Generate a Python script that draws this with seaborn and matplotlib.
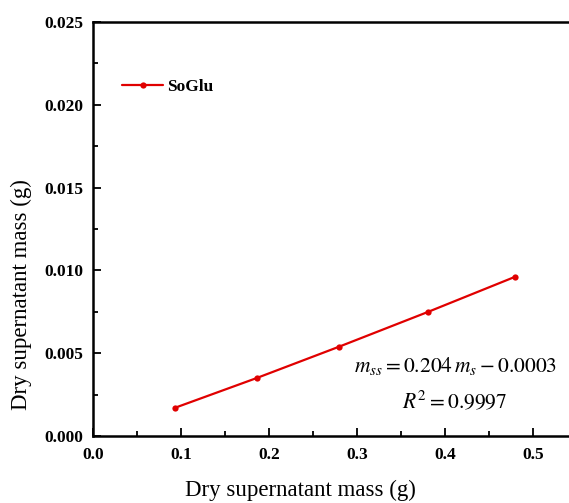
import matplotlib
matplotlib.use("Agg")
import matplotlib.pyplot as plt
import seaborn as sns
import pandas as pd
from matplotlib.ticker import MultipleLocator

x_vals = [0.093, 0.186, 0.280, 0.381, 0.479]
y_vals = [0.0017, 0.0035, 0.0054, 0.0075, 0.0096]
series_name = "SoGlu"
xtick_labels = ["0.0", "0.1", "0.2", "0.3", "0.4", "0.5"]
ytick_labels = ["0.000", "0.005", "0.010", "0.015", "0.020", "0.025"]

sns.set_style("ticks")
plt.rcParams['font.family'] = ['Liberation Serif', 'DejaVu Serif']
plt.rcParams['mathtext.fontset'] = 'stix'
plt.rcParams['text.color'] = 'black'
plt.rcParams['axes.labelcolor'] = 'black'
plt.rcParams['xtick.color'] = 'black'
plt.rcParams['ytick.color'] = 'black'

df = pd.DataFrame({"x": x_vals, "y": y_vals, "series": series_name})

fig = plt.figure(figsize=(5.69, 5.03), dpi=100)
ax = fig.add_axes([93/569, 67/503, 528/569, 414/503])

sns.lineplot(data=df, x="x", y="y", hue="series", palette=["#e00000"],
             marker="o", markersize=4.5, markeredgewidth=0, linewidth=1.6, ax=ax)

ax.set_xlim(0, 0.6)
ax.set_ylim(0, 0.025)
ax.set_xticks([0.0, 0.1, 0.2, 0.3, 0.4, 0.5])
ax.set_xticklabels(xtick_labels)
ax.set_yticks([0.0, 0.005, 0.010, 0.015, 0.020, 0.025])
ax.set_yticklabels(ytick_labels)
ax.xaxis.set_minor_locator(MultipleLocator(0.05))
ax.yaxis.set_minor_locator(MultipleLocator(0.0025))
ax.tick_params(which='both', direction='in', width=1.3, colors='black')
ax.tick_params(which='major', length=6, labelsize=12.5)
ax.tick_params(axis='y', which='major', pad=7)
ax.tick_params(axis='x', which='major', pad=8)
ax.tick_params(which='minor', length=3.5)
for lab in ax.get_xticklabels() + ax.get_yticklabels():
    lab.set_fontweight('bold')
for s in ax.spines.values():
    s.set_linewidth(1.8)
    s.set_color('black')

ax.set_xlabel("Dry supernatant mass (g)", fontsize=16.5, color='black')
ax.xaxis.set_label_coords((300 - 93) / 528, -(480 - 436) / 414)
ax.set_ylabel("Dry supernatant mass (g)", fontsize=16.5, color='black')
ax.yaxis.set_label_coords(-(93 - 32) / 528, (436 - 295) / 414)

leg = ax.legend(loc='upper left', bbox_to_anchor=(0.025, 0.9), frameon=False,
                handlelength=2.4, handletextpad=0.2, prop={'weight': 'bold', 'size': 12.5})
for t in leg.get_texts():
    t.set_color('black')

ax.text((456 - 93) / 528, (436 - 366) / 414, r"$m_{ss} = 0.204\,m_s - 0.0003$",
        transform=ax.transAxes, ha='center', va='center', fontsize=15.5, color='black')
ax.text((455 - 93) / 528, (436 - 402) / 414, r"$R^2 = 0.9997$",
        transform=ax.transAxes, ha='center', va='center', fontsize=15.5, color='black')

fig.savefig("out.png", dpi=100)
